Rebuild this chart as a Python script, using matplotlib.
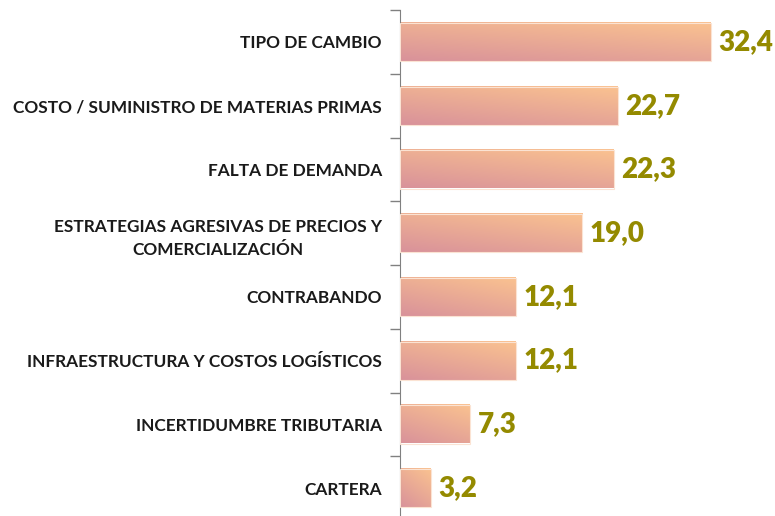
import numpy as np
import matplotlib.pyplot as plt
from matplotlib.colors import LinearSegmentedColormap
from matplotlib.patches import Rectangle

categories = [
    'TIPO DE CAMBIO',
    'COSTO / SUMINISTRO DE MATERIAS PRIMAS',
    'FALTA DE DEMANDA',
    'ESTRATEGIAS AGRESIVAS DE PRECIOS Y\nCOMERCIALIZACIÓN',
    'CONTRABANDO',
    'INFRAESTRUCTURA Y COSTOS LOGÍSTICOS',
    'INCERTIDUMBRE TRIBUTARIA',
    'CARTERA',
]
values = [32.4, 22.7, 22.3, 19.0, 12.1, 12.1, 7.3, 3.2]

plt.rcParams['font.family'] = ['Lato', 'DejaVu Sans']

fig = plt.figure(figsize=(7.75, 5.16), dpi=100)
ax = fig.add_axes([400 / 775, -4 / 516, 345 / 775, 510 / 516])

# gradiente diagonal: rosa abajo-izquierda, durazno arriba-derecha
cmap = LinearSegmentedColormap.from_list('peach', ['#d9929a', '#fac290'])
n = 40
gx, gy = np.meshgrid(np.linspace(0, 1, n), np.linspace(0, 1, n))
grad = (gx * 0.6 + gy) / 1.6

pos = np.arange(len(categories))
bar_h = 0.6
bars = ax.barh(pos, values, height=bar_h, color='none', edgecolor='none')
for b, v in zip(bars, values):
    x0, y0 = b.get_x(), b.get_y()
    w, h = b.get_width(), b.get_height()
    ax.imshow(grad[::-1], cmap=cmap, extent=(x0, x0 + w, y0 + h, y0),
              aspect='auto', interpolation='bilinear', zorder=2)
    ax.add_patch(Rectangle((x0, y0), w, h, fill=False, edgecolor='#fbe3d3',
                           linewidth=0.8, zorder=3))
    ax.text(v + 0.8, b.get_y() + h / 2, f'{v:.1f}'.replace('.', ','),
            va='center', ha='left', fontsize=20, fontweight='heavy',
            color='#948a00', zorder=4)

ax.set_xlim(0, 36)
ax.set_ylim(len(categories) - 0.5, -0.5)

ax.set_yticks(pos)
ax.set_yticklabels(categories, fontsize=12.4, fontweight='bold', color='#1a1a1a')
for lab in ax.get_yticklabels():
    lab.set_multialignment('center')
    lab.set_linespacing(1.6)
ax.tick_params(axis='y', which='major', length=0, pad=13)
ax.set_yticks(np.arange(len(categories) + 1) - 0.5, minor=True)
ax.tick_params(axis='y', which='minor', length=7, color='#808080', width=1)
ax.set_xticks([])

for s in ['top', 'right', 'bottom']:
    ax.spines[s].set_visible(False)
ax.spines['left'].set_color('#808080')

fig.savefig('out.png', dpi=100)
